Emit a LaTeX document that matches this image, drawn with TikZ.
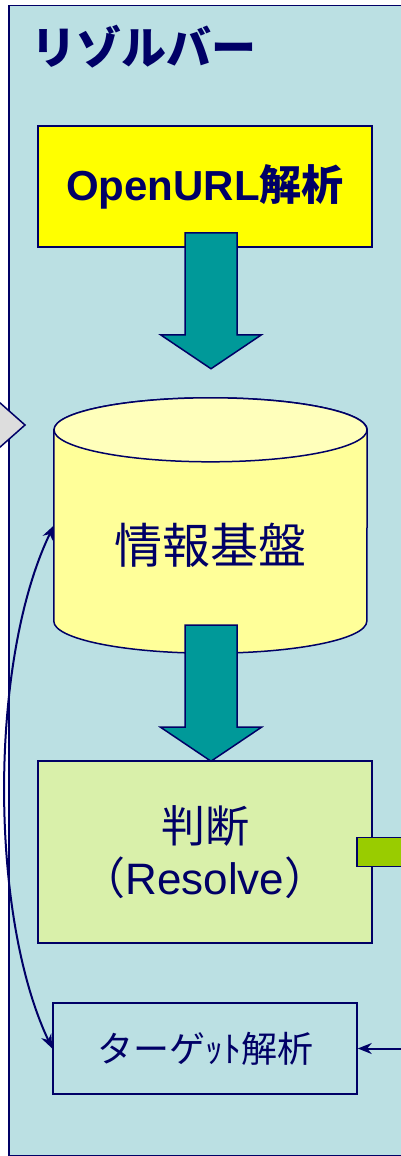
\documentclass[tikz,border=0pt]{standalone}
\usepackage{fontspec}
\setmainfont{Liberation Sans}
\newfontfamily\jp{Noto Sans CJK JP}
\usetikzlibrary{arrows.meta}
\definecolor{navy}{HTML}{000066}
\definecolor{resbg}{HTML}{BBE0E3}
\definecolor{urlyellow}{HTML}{FFFF00}
\definecolor{dbbody}{HTML}{FFFF99}
\definecolor{dbtop}{HTML}{FFFFBB}
\definecolor{arrowteal}{HTML}{009999}
\definecolor{judgegreen}{HTML}{D9F0AA}
\definecolor{tabgreen}{HTML}{99CC00}
\definecolor{ingrey}{HTML}{DDDDDD}
\def \boxw {334}
\def \dbrx {156.5}
\def \dbry {32}
\tikzstyle{procbox}=[draw=navy, line width=1.5pt, inner sep=0pt, text=navy, align=center]
\tikzstyle{fatarrow}=[draw=navy, fill=arrowteal, line width=1.5pt, line join=miter]
\tikzstyle{link}=[draw=navy, line width=2pt, -{Stealth[length=14pt, width=11pt]}]
\tikzstyle{dlink}=[draw=navy, line width=2pt, {Stealth[length=14pt, width=11pt]}-{Stealth[length=14pt, width=11pt]}]
\newcommand{\tealarrow}[1]{\draw[fatarrow] (#1) ++(-26,0) -- ++(0,-102) -- ++(-24.5,0) -- ++(50.5,-34) -- ++(50.5,34) -- ++(-24.5,0) -- ++(0,102) -- cycle;}
\begin{document}
\begin{tikzpicture}[x=1pt, y=1pt]
\useasboundingbox (0,0) rectangle (401,-1156);

% resolver frame
\node[draw=navy, fill=resbg, line width=1.5pt, minimum width=394pt, minimum height=1150pt, inner sep=0pt, anchor=north west] (resolver) at (8,-5) {};
\node[anchor=west, text=navy, font=\jp\bfseries\fontsize{45}{45}\selectfont, inner sep=0pt] (title) at (31,-47) {リゾルバー};

% incoming arrow from the left
\draw[navy, fill=ingrey, line width=1.5pt] (-10,-394) -- (25,-425) -- (-10,-456) -- cycle;

\node[procbox, fill=urlyellow, minimum width=\boxw pt, minimum height=121pt, font=\bfseries\fontsize{42}{42}\selectfont] (url) at (205,-186.5) {OpenURL{\jp 解析}};

% database
\node[minimum width=313pt, minimum height=191pt, inner sep=0pt] (info) at (210.5,-525.5) {};
\draw[navy, fill=dbbody, line width=1.5pt] (info.north west) -- (info.south west) arc[start angle=180, end angle=360, x radius=\dbrx, y radius=\dbry] -- (info.north east) arc[start angle=0, end angle=180, x radius=\dbrx, y radius=\dbry] -- cycle;
\draw[navy, fill=dbtop, line width=1.5pt] (info.north) ellipse[x radius=\dbrx, y radius=\dbry];
\node[text=navy, font=\jp\fontsize{48}{48}\selectfont] (infolabel) at ([yshift=-20pt]info.center) {情報基盤};

\node[procbox, fill=judgegreen, minimum width=\boxw pt, minimum height=182pt, font=\fontsize{44}{52}\selectfont] (judge) at (205,-852) {{\jp 判断}\\{\jp （}Resolve{\jp ）}};
\draw[navy, fill=tabgreen, line width=1.5pt] (judge.east) ++(-16,14.5) rectangle ++(70,-29);

\node[procbox, minimum width=304pt, minimum height=91pt, font=\jp\fontsize{36}{36}\selectfont] (target) at (205,-1048.5) {ターゲｯﾄ解析};

\tealarrow{[xshift=6pt, yshift=15pt]url.south}
\tealarrow{[xshift=0.5pt, yshift=-4pt]info.south}

\draw[dlink] (info.west) .. controls (-11,-660) and (-11,-915) .. (target.west);
\coordinate (fromright) at (410,-1048.5);
\draw[link] (fromright) -- (target.east);

\end{tikzpicture}
\end{document}
